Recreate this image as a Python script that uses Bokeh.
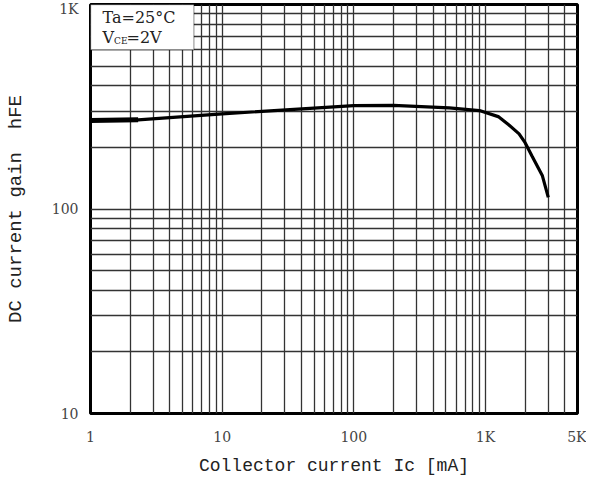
from bokeh.plotting import figure
from bokeh.models import FixedTicker, BoxAnnotation, Label
from bokeh.embed import file_html
from bokeh.resources import INLINE

# Data
ic_ma = [1, 2.3, 10, 100, 200, 530, 900, 1250, 1500, 1800, 2000, 2250, 2700, 3000]
hfe = [271, 273, 292, 320, 321, 312, 303, 283, 258, 233, 211, 182, 146, 114]

x_ticks = [1, 10, 100, 1000, 5000]
x_labels = ["1", "10", "100", "1K", "5K"]
y_ticks = [10, 100, 1000]
y_labels = ["10", "100", "1K"]

x_grid = [m * d for d in (1, 10, 100, 1000) for m in range(1, 10) if m * d <= 5000]
y_grid = [m * d for d in (10, 100) for m in range(1, 10)] + [1000]

TICK_FONT = "DejaVu Serif"
LABEL_FONT = "Liberation Mono"
NB = "\u00a0"

p = figure(width=586, height=478, x_axis_type="log", y_axis_type="log",
           x_range=(1, 5000), y_range=(10, 1000),
           output_backend="svg", toolbar_location=None,
           min_border_left=90, min_border_right=9, min_border_top=4, min_border_bottom=62)

p.outline_line_color = "black"
p.outline_line_width = 3

for ax in (p.xaxis, p.yaxis):
    ax.axis_line_color = None
    ax.major_tick_line_color = None
    ax.minor_tick_line_color = None
    ax.major_label_text_font = TICK_FONT
    ax.major_label_text_font_size = "14px"
    ax.major_label_text_color = "#444444"
    ax.axis_label_text_font = LABEL_FONT
    ax.axis_label_text_font_size = "18px"
    ax.axis_label_text_font_style = "normal"
    ax.axis_label_text_color = "#222222"

p.yaxis.axis_label_text_font_size = "19px"

p.xaxis.ticker = FixedTicker(ticks=x_ticks)
p.xaxis.major_label_overrides = {t: l for t, l in zip(x_ticks, x_labels)}
p.yaxis.ticker = FixedTicker(ticks=y_ticks)
p.yaxis.major_label_overrides = {t: l for t, l in zip(y_ticks, y_labels)}
p.xaxis.axis_label = "Collector current Ic [mA]"
p.yaxis.axis_label = "DC current gain" + NB * 2 + "hFE"
p.xaxis.major_label_standoff = 9
p.yaxis.major_label_standoff = 6
p.xaxis.axis_label_standoff = 8
p.yaxis.axis_label_standoff = 22

p.xgrid.ticker = FixedTicker(ticks=x_grid)
p.ygrid.ticker = FixedTicker(ticks=y_grid)
for g in (p.xgrid, p.ygrid):
    g.grid_line_color = "#333333"
    g.grid_line_width = 1.3
    g.grid_line_alpha = 1.0

p.line(ic_ma, hfe, line_color="black", line_width=3.2)
p.line(ic_ma[:2], hfe[:2], line_color="black", line_width=5)

box = BoxAnnotation(left=1, right=6.1, bottom=600, top=1000,
                    fill_color="white", fill_alpha=1.0,
                    line_color="black", line_width=1.5)
p.add_layout(box)

LEG = dict(text_font=TICK_FONT, text_color="#222222", text_baseline="middle")
p.add_layout(Label(x=1, y=1000, x_offset=12, y_offset=-13, text="Ta=25°C",
                   text_font_size="16px", **LEG))
p.add_layout(Label(x=1, y=1000, x_offset=12, y_offset=-33, text="V",
                   text_font_size="16px", **LEG))
p.add_layout(Label(x=1, y=1000, x_offset=23.5, y_offset=-36, text="CE",
                   text_font_size="9px", **LEG))
p.add_layout(Label(x=1, y=1000, x_offset=36, y_offset=-33, text="=2V",
                   text_font_size="16px", **LEG))

open("out.html", "w").write(file_html(p, INLINE))
